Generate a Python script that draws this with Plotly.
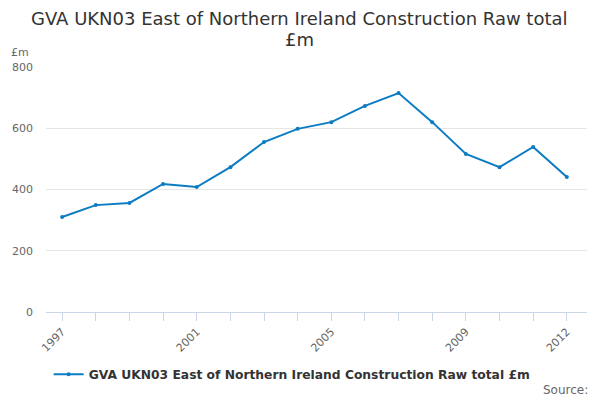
import plotly.graph_objects as go

years = list(range(1997, 2013))
values = [310, 349, 356, 418, 408, 473, 555, 598, 620, 673, 715, 620, 516, 473, 539, 441]
labeled_years = [1997, 2001, 2005, 2009, 2012]
y_ticks = [0, 200, 400, 600, 800]

series_name = "GVA UKN03 East of Northern Ireland Construction Raw total £m"
title_lines = ["GVA UKN03 East of Northern Ireland Construction Raw total", "£m"]

fig = go.Figure()
fig.add_trace(go.Scatter(
    x=years, y=values, mode="lines+markers", name=series_name,
    line=dict(color="#0b7cc2", width=2),
    marker=dict(size=4, color="#0b7cc2"),
))

ticktext = [str(y) if y in labeled_years else "" for y in years]

# page body has an 8px margin, so the figure is 8px smaller than the window
fig.update_layout(
    width=592, height=392,
    font=dict(family="DejaVu Sans", color="#333333"),
    paper_bgcolor="white", plot_bgcolor="white",
    margin=dict(l=38, r=13, t=59, b=88, autoexpand=False),
    showlegend=True,
    legend=dict(orientation="h", x=0.455, xanchor="center",
                yref="container", y=0.066, yanchor="middle",
                font=dict(size=12.3, color="#333333", weight="bold")),
    xaxis=dict(
        range=[1996.52, 2012.6], tickvals=years, ticktext=ticktext,
        tickangle=-45, ticks="outside", ticklen=8, tickcolor="#ccd6eb",
        showline=True, linecolor="#ccd6eb", showgrid=False, zeroline=False,
        automargin=False,
        tickfont=dict(size=11, color="#666666"),
    ),
    yaxis=dict(
        range=[0, 800], tickvals=y_ticks, showgrid=True, gridcolor="#e6e6e6",
        zeroline=False, showline=False, ticks="", automargin=False,
        ticklabelstandoff=12,
        tickfont=dict(size=11, color="#666666"),
    ),
    annotations=[
        dict(text=title_lines[0], xref="paper", yref="paper", x=0.4695, y=1.2,
             xanchor="center", yanchor="middle", showarrow=False,
             font=dict(size=18, color="#333333")),
        dict(text=title_lines[1], xref="paper", yref="paper", x=0.4695, y=1.114,
             xanchor="center", yanchor="middle", showarrow=False,
             font=dict(size=18, color="#333333")),
        dict(text="£m", xref="paper", yref="paper", x=-0.048, y=1.061,
             xanchor="center", yanchor="middle", showarrow=False,
             font=dict(size=11, color="#666666")),
        dict(text="Source:", xref="paper", x=1.005, xanchor="right",
             yref="paper", y=-0.318, yanchor="middle", showarrow=False,
             font=dict(size=12, color="#666666")),
    ],
)

fig.write_html("out.html")
